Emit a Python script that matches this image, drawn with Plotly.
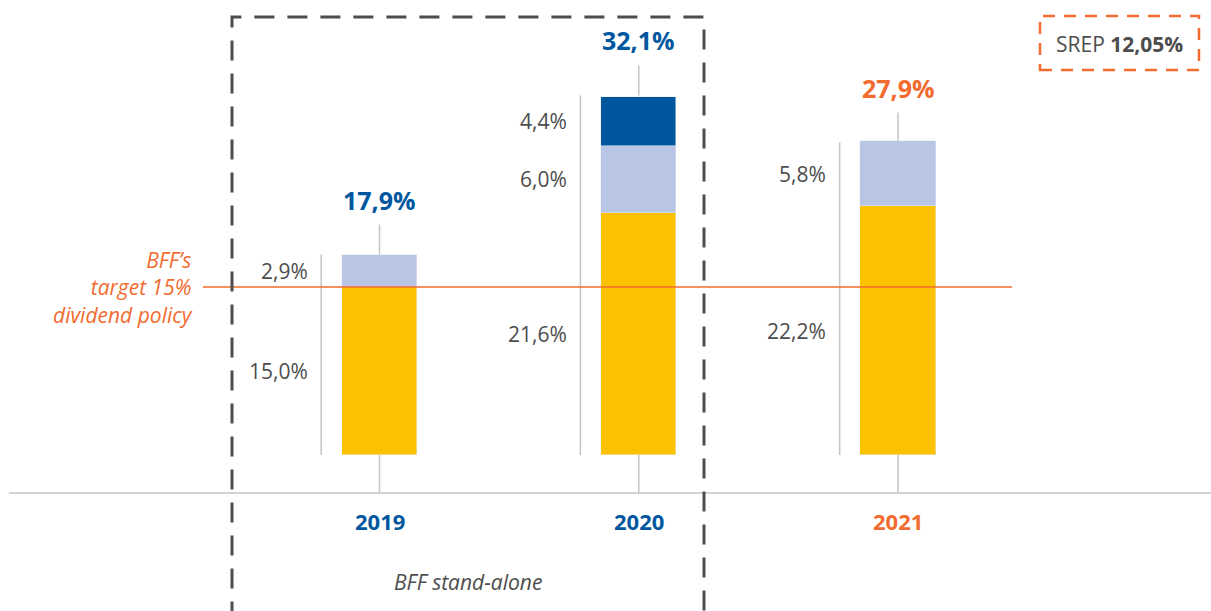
import plotly.graph_objects as go

years = ["2019", "2020", "2021"]
cet1 = [15.0, 21.6, 22.2]
tier2 = [2.9, 6.0, 5.8]
extra = [None, 4.4, None]
totals = [17.9, 32.1, 27.9]
cet1_labels = ["15,0%", "21,6%", "22,2%"]
tier2_labels = ["2,9%", "6,0%", "5,8%"]
extra_labels = [None, "4,4%", None]
total_labels = ["17,9%", "32,1%", "27,9%"]
year_colors = ["#00579e", "#00579e", "#f26b2f"]
target = 15.0
srep_label = "SREP <b>12,05%</b>"

YELLOW = "#fcc200"
LIGHT = "#b9c5e4"
DARK = "#00579e"
ORANGE = "#f26b2f"
GRAY_LINE = "#c4c4c4"
TEXT = "#4d4d4d"
FONT = "Open Sans"

xs = [0, 1, 2]
PX_Y = 11.2
PX_X = 259.25
Y_MIN = -156 / PX_Y
Y_MAX = 455 / PX_Y
X_MIN = -379.5 / PX_X
X_MAX = (1211 - 379.5) / PX_X
AXIS_Y = -38 / PX_Y

fig = go.Figure()

for x, t in zip(xs, totals):
    # center whiskers above and below bar
    fig.add_trace(go.Scatter(x=[x, x, None, x, x], y=[t, t + 30 / PX_Y, None, AXIS_Y, 0],
                             mode="lines", line=dict(color=GRAY_LINE, width=1.5),
                             hoverinfo="skip", showlegend=False))
    # left bracket
    fig.add_trace(go.Scatter(x=[x - 0.225, x - 0.225], y=[0, t], mode="lines",
                             line=dict(color=GRAY_LINE, width=1.5), hoverinfo="skip",
                             showlegend=False))

fig.add_trace(go.Bar(x=xs, y=cet1, marker_color=YELLOW, width=0.29, showlegend=False))
fig.add_trace(go.Bar(x=xs, y=tier2, marker_color=LIGHT, width=0.29, showlegend=False))
fig.add_trace(go.Bar(x=xs, y=extra, marker_color=DARK, width=0.29, showlegend=False))

fig.add_trace(go.Scatter(x=[-0.681, 2.44], y=[target, target], mode="lines",
                         line=dict(color=ORANGE, width=1.3), hoverinfo="skip",
                         showlegend=False))

fig.add_shape(type="line", x0=-1.43, x1=X_MAX, y0=AXIS_Y, y1=AXIS_Y,
              line=dict(color=GRAY_LINE, width=1.5))

ann = []
for i, x in enumerate(xs):
    base = 0
    for vals, labs in ((cet1, cet1_labels), (tier2, tier2_labels), (extra, extra_labels)):
        v = vals[i]
        if v is None:
            continue
        ann.append(dict(x=x - 0.27, y=base + v / 2, text=labs[i], xanchor="right",
                        yanchor="middle", showarrow=False,
                        font=dict(family=FONT, size=21, color=TEXT)))
        base += v
    ann.append(dict(x=x, y=totals[i], text="<b>" + total_labels[i] + "</b>", xanchor="center",
                    yanchor="middle", yshift=55, showarrow=False,
                    font=dict(family=FONT, size=25, color=year_colors[i])))
    ann.append(dict(x=x, y=-66 / PX_Y, text="<b>" + years[i] + "</b>", xanchor="center",
                    yanchor="middle", showarrow=False,
                    font=dict(family=FONT, size=22, color=year_colors[i])))

ann.append(dict(x=(468 - 379.5) / PX_X, y=-127 / PX_Y, text="<i>BFF stand-alone</i>",
                xanchor="center", yanchor="middle", showarrow=False,
                font=dict(family=FONT, size=21, color=TEXT)))
ann.append(dict(x=(195 - 379.5) / PX_X, y=target, text="<i>BFF’s<br>target 15%<br>dividend policy</i>",
                xanchor="right", yanchor="middle", align="right", showarrow=False,
                font=dict(family=FONT, size=21, color=ORANGE)))
ann.append(dict(x=(1119 - 379.5) / PX_X, y=(455 - 44) / PX_Y, text=srep_label,
                xanchor="center", yanchor="middle", showarrow=False,
                font=dict(family=FONT, size=21, color=TEXT)))

fig.add_shape(type="rect", x0=(232 - 379.5) / PX_X, x1=(704 - 379.5) / PX_X,
              y0=Y_MIN - 2, y1=(455 - 17) / PX_Y,
              line=dict(color=TEXT, width=3, dash="20px,13px"))
fig.add_shape(type="rect", x0=(1040 - 379.5) / PX_X, x1=(1199 - 379.5) / PX_X,
              y0=(455 - 70) / PX_Y, y1=(455 - 16) / PX_Y,
              line=dict(color=ORANGE, width=2.5, dash="12px,9px"))

fig.update_layout(
    width=1211, height=611, margin=dict(l=0, r=0, t=0, b=0),
    paper_bgcolor="white", plot_bgcolor="white", barmode="stack", bargap=0,
    annotations=ann,
    xaxis=dict(range=[X_MIN, X_MAX], visible=False, fixedrange=True),
    yaxis=dict(range=[Y_MIN, Y_MAX], visible=False, fixedrange=True),
    font=dict(family=FONT),
)

fig.write_html("out.html", config={"displayModeBar": False},
               post_script="document.body.style.margin='0';document.body.style.overflow='hidden';")
